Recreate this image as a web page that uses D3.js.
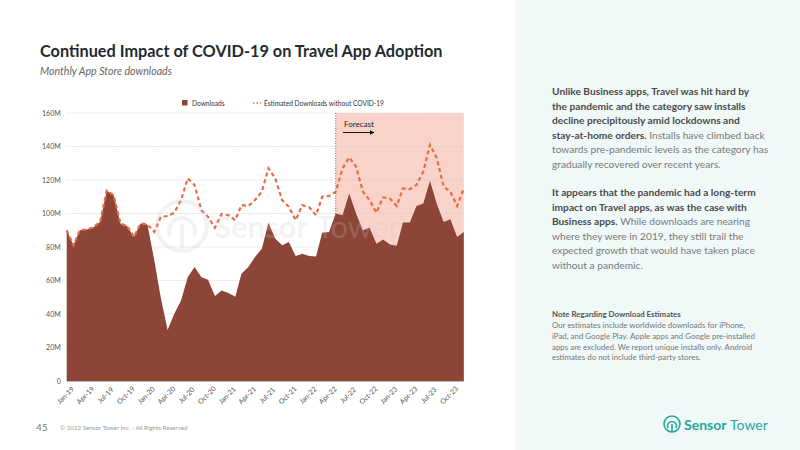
<!DOCTYPE html>
<html>
<head>
<meta charset="utf-8">
<script src="https://cdn.jsdelivr.net/npm/d3@7"></script>
<style>
  body { margin: 0; background: #fff; }
  svg { display: block; font-family: Lato, "Open Sans", sans-serif; }
</style>
</head>
<body>
<svg id="chart" width="800" height="450"></svg>
<script>
// monthly downloads, Jan-19 .. Dec-23 (millions)
const downloads = [90, 81, 90, 90.5, 91.7, 95, 113.6, 111, 94, 92.5, 86, 94,
  93.5, 72, 50, 30.5, 40, 48, 62, 68, 62, 60.5, 50.7, 54,
  52.5, 50.3, 64, 68, 74, 79, 94.5, 85, 81, 83, 74.6, 76,
  74.6, 74.3, 88.5, 89, 100, 99, 112, 100, 90, 91.5, 82, 84.5,
  81.5, 80.7, 94.7, 94.7, 104.5, 106, 119.6, 105.6, 95, 96.5, 86, 89];

const estimated = [90, 81, 90, 90.5, 91.7, 95, 113.6, 111, 94, 92.5, 86, 94,
  93.5, 89, 98, 98.5, 100.5, 108, 121, 117, 102, 98, 91.5, 99.7,
  99, 96, 105, 104.5, 108, 113, 127, 121, 108, 104, 96, 105,
  103.7, 99, 110, 110.5, 113, 127, 133.5, 128, 113, 108, 100.5, 109.6,
  109, 104.5, 115, 114.5, 117, 125, 141, 133, 116, 113, 104.5, 115];

const months = d3.timeMonths(new Date(2019, 0, 1), new Date(2024, 0, 1));
const forecastStart = new Date(2022, 4, 1);
const yTicks = [0, 20, 40, 60, 80, 100, 120, 140, 160];

const panelPara1 = [
  [["Unlike Business apps, Travel was hit hard by", true]],
  [["the pandemic and the category saw installs", true]],
  [["decline precipitously amid lockdowns and", true]],
  [["stay-at-home orders.", true], [" Installs have climbed back", false]],
  [["towards pre-pandemic levels as the category has", false]],
  [["gradually recovered over recent years.", false]]
];
const panelPara2 = [
  [["It appears that the pandemic had a long-term", true]],
  [["impact on Travel apps, as was the case with", true]],
  [["Business apps.", true], [" While downloads are nearing", false]],
  [["where they were in 2019, they still trail the", false]],
  [["expected growth that would have taken place", false]],
  [["without a pandemic.", false]]
];
const noteLines = [
  "Our estimates include worldwide downloads for iPhone,",
  "iPad, and Google Play. Apple apps and Google pre-installed",
  "apps are excluded. We report unique installs only. Android",
  "estimates do not include third-party stores."
];

const svg = d3.select("#chart");

// right panel background
svg.append("rect").attr("x", 515).attr("y", 0).attr("width", 285).attr("height", 450)
  .attr("fill", "#f0f8f8");

// titles
svg.append("text").attr("x", 40).attr("y", 57).attr("font-size", 16.3).attr("font-weight", 700)
  .attr("fill", "#1f2b30").text("Continued Impact of COVID-19 on Travel App Adoption");
svg.append("text").attr("x", 40).attr("y", 75).attr("font-size", 10.6).attr("font-style", "italic")
  .attr("fill", "#666").text("Monthly App Store downloads");

// scales
const x = d3.scaleTime()
  .domain([months[0], months[months.length - 1]])
  .range([66.7, 463.8]);
const y = d3.scaleLinear().domain([0, 160]).range([381, 113]);

const g = svg.append("g");

// forecast shading
g.append("rect")
  .attr("x", x(forecastStart)).attr("y", y(160))
  .attr("width", x.range()[1] - x(forecastStart)).attr("height", y(0) - y(160))
  .attr("fill", "#f9d3c9");

// gridlines
g.selectAll(".grid").data(yTicks.filter(d => d > 0)).join("line")
  .attr("class", "grid")
  .attr("x1", x.range()[0]).attr("x2", x.range()[1])
  .attr("y1", d => y(d)).attr("y2", d => y(d))
  .attr("stroke", "#c8c8c8").attr("stroke-width", 0.8).attr("stroke-dasharray", "1,1.5");

// forecast divider
g.append("line")
  .attr("x1", x(forecastStart)).attr("x2", x(forecastStart))
  .attr("y1", y(160)).attr("y2", y(0))
  .attr("stroke", "#666").attr("stroke-width", 0.9).attr("stroke-dasharray", "1,1.5");

// downloads area
const area = d3.area()
  .x((d, i) => x(months[i]))
  .y0(y(0))
  .y1(d => y(d));
g.append("path").datum(downloads)
  .attr("d", area)
  .attr("fill", "#8c4537");

// axis baseline
g.append("line").attr("x1", x.range()[0]).attr("x2", x.range()[1])
  .attr("y1", y(0) + 0.5).attr("y2", y(0) + 0.5).attr("stroke", "#bbb").attr("stroke-width", 1);

// estimated line
const line = d3.line()
  .x((d, i) => x(months[i]))
  .y(d => y(d));
g.append("path").datum(estimated)
  .attr("d", line)
  .attr("fill", "none")
  .attr("stroke", "#ea6a42")
  .attr("stroke-width", 2.2)
  .attr("stroke-dasharray", "4,3");

// watermark
const wm = g.append("g").attr("opacity", 0.22);
wm.append("circle").attr("cx", 182).attr("cy", 226).attr("r", 25)
  .attr("fill", "none").attr("stroke", "#c8c8c8").attr("stroke-width", 4);
wm.append("path").attr("d", "M170,236 A13,13 0 1 1 194,236")
  .attr("fill", "none").attr("stroke", "#c8c8c8").attr("stroke-width", 4);
wm.append("line").attr("x1", 182).attr("x2", 182).attr("y1", 224).attr("y2", 249)
  .attr("stroke", "#c8c8c8").attr("stroke-width", 4);
wm.append("text").attr("x", 214).attr("y", 238).attr("font-size", 31).attr("font-weight", 700)
  .attr("fill", "#c8c8c8").text("Sensor");
wm.append("text").attr("x", 316).attr("y", 238).attr("font-size", 31)
  .attr("fill", "#c8c8c8").text("Tower");

// y axis
const yAxis = g.append("g")
  .attr("transform", `translate(${x.range()[0] - 4},0)`)
  .call(d3.axisLeft(y).tickValues(yTicks).tickSize(0).tickPadding(2)
    .tickFormat(d => d === 0 ? "0" : d + "M"));
yAxis.select(".domain").remove();
yAxis.selectAll("text").attr("font-size", 7).attr("fill", "#555").attr("font-family", "Lato, sans-serif");

// x axis
const xTicks = months.filter((d, i) => i % 3 === 0 && i < 58);
const xAxis = g.append("g")
  .attr("transform", `translate(0,${y(0)})`)
  .call(d3.axisBottom(x).tickValues(xTicks).tickSize(0).tickFormat(d3.timeFormat("%b-%y")));
xAxis.select(".domain").remove();
xAxis.selectAll("text")
  .attr("font-size", 7).attr("fill", "#555").attr("font-family", "Lato, sans-serif")
  .attr("text-anchor", "middle").attr("dy", 0).attr("y", 0)
  .attr("transform", "translate(0,16) rotate(-45)");

// legend
const leg = svg.append("g").attr("font-size", 6.6).attr("fill", "#333");
leg.append("rect").attr("x", 182).attr("y", 100).attr("width", 5.5).attr("height", 5.5).attr("fill", "#8c4537");
leg.append("text").attr("x", 192).attr("y", 105.5).text("Downloads");
leg.append("line").attr("x1", 253).attr("x2", 261).attr("y1", 103).attr("y2", 103)
  .attr("stroke", "#ea6a42").attr("stroke-width", 1.6).attr("stroke-dasharray", "1.5,2");
leg.append("text").attr("x", 264).attr("y", 105.5).text("Estimated Downloads without COVID-19");

// forecast label
svg.append("text").attr("x", 344).attr("y", 127).attr("font-size", 8).attr("fill", "#222").text("Forecast");
svg.append("defs").append("marker").attr("id", "arr").attr("viewBox", "0 0 10 10")
  .attr("refX", 9).attr("refY", 5).attr("markerWidth", 5).attr("markerHeight", 5).attr("orient", "auto")
  .append("path").attr("d", "M0,0 L10,5 L0,10 z").attr("fill", "#111");
svg.append("line").attr("x1", 343).attr("x2", 374).attr("y1", 132.5).attr("y2", 132.5)
  .attr("stroke", "#111").attr("stroke-width", 1).attr("marker-end", "url(#arr)");

// right panel text
function para(lines, y0) {
  lines.forEach((parts, i) => {
    const t = svg.append("text").attr("x", 552).attr("y", y0 + i * 14.6).attr("font-size", 10.2);
    parts.forEach(([s, bold]) => {
      t.append("tspan").text(s)
        .attr("font-weight", bold ? 700 : 400)
        .attr("fill", bold ? "#4a4a4a" : "#7a7a7a");
    });
  });
}
para(panelPara1, 95);
para(panelPara2, 196);

svg.append("text").attr("x", 552).attr("y", 317).attr("font-size", 7.9).attr("font-weight", 700)
  .attr("fill", "#555").text("Note Regarding Download Estimates");
noteLines.forEach((s, i) => {
  svg.append("text").attr("x", 552).attr("y", 328 + i * 10.8).attr("font-size", 7.9)
    .attr("fill", "#777").text(s);
});

// footer
svg.append("text").attr("x", 36).attr("y", 431).attr("font-size", 10).attr("fill", "#777").text("45");
svg.append("text").attr("x", 60).attr("y", 430).attr("font-size", 6.2).attr("fill", "#999")
  .text("© 2022 Sensor Tower Inc. - All Rights Reserved");

// logo
const logo = svg.append("g");
logo.append("circle").attr("cx", 672).attr("cy", 424).attr("r", 8)
  .attr("fill", "none").attr("stroke", "#26a69a").attr("stroke-width", 1.6);
logo.append("path").attr("d", "M668,428 A4.5,4.5 0 1 1 676,428")
  .attr("fill", "none").attr("stroke", "#26a69a").attr("stroke-width", 1.6);
logo.append("line").attr("x1", 672).attr("x2", 672).attr("y1", 424).attr("y2", 432)
  .attr("stroke", "#26a69a").attr("stroke-width", 1.6);
logo.append("text").attr("x", 684).attr("y", 429.5).attr("font-size", 14).attr("font-weight", 700)
  .attr("fill", "#26a69a").text("Sensor");
logo.append("text").attr("x", 730).attr("y", 429.5).attr("font-size", 14)
  .attr("fill", "#26a69a").text("Tower");
</script>
</body>
</html>
